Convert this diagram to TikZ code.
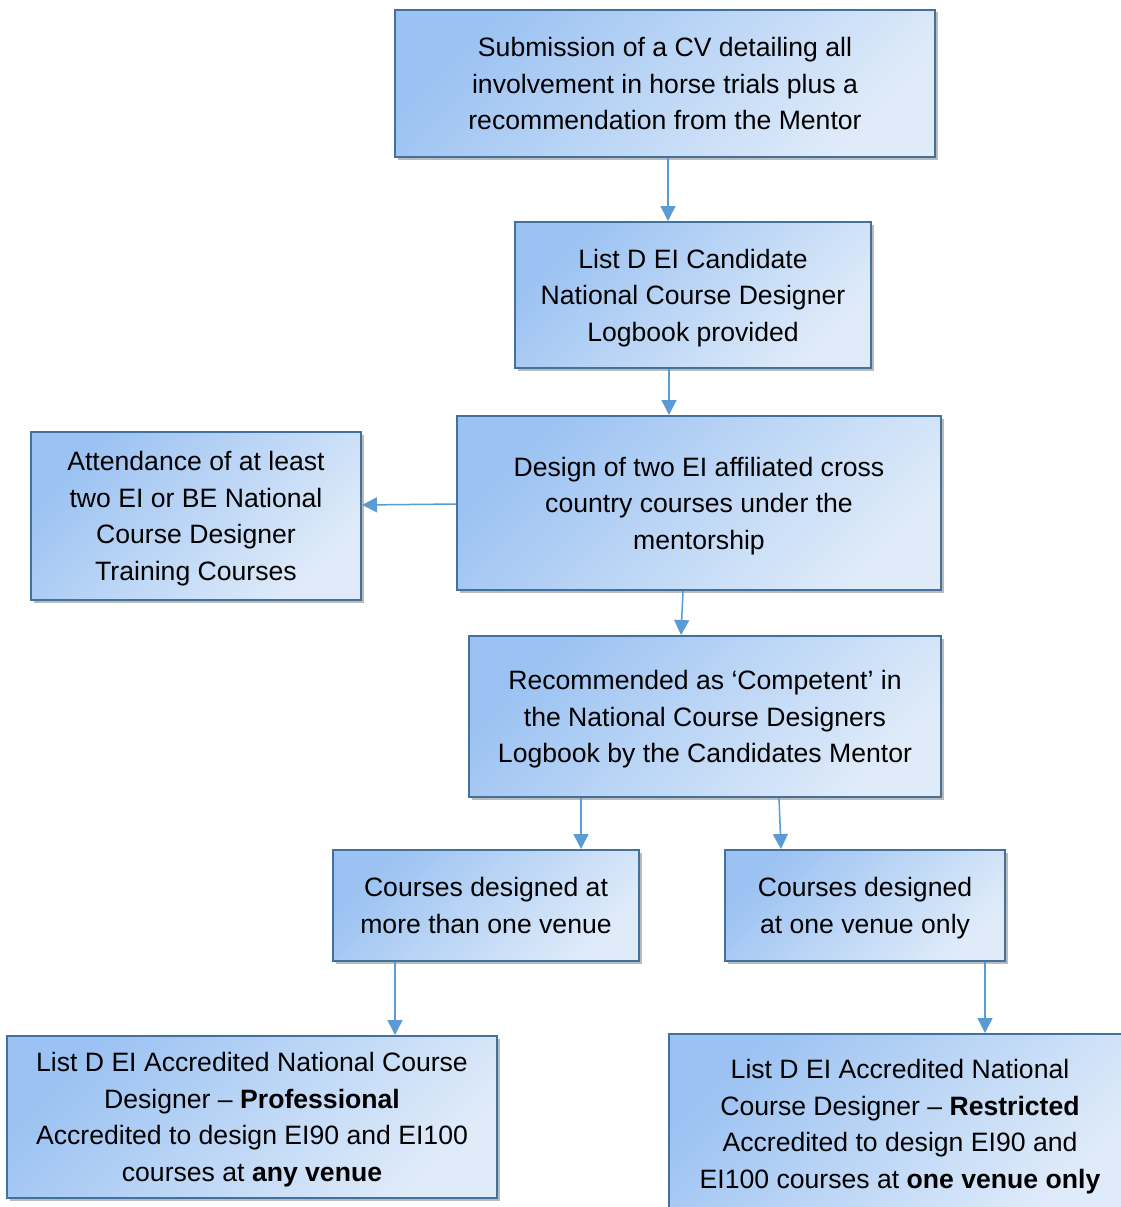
\documentclass[tikz,border=0pt]{standalone}
\usepackage{fontspec}
\setmainfont{Liberation Sans}
\usetikzlibrary{arrows.meta,shadows}
\definecolor{bordc}{HTML}{41719C}
\definecolor{arrc}{HTML}{5B9BD5}
\definecolor{gtop}{HTML}{9BC2F2}
\definecolor{gbot}{HTML}{DFEBF9}
\tikzset{
  box/.style={draw=bordc, line width=2pt, top color=gtop, bottom color=gbot,
    shading angle=45, drop shadow={shadow xshift=2.5pt, shadow yshift=-2.5pt, opacity=0.45, fill=black!60},
    align=center, inner sep=0pt, text depth=0pt,
    font=\fontsize{26.6}{36.6}\selectfont},
  conn/.style={draw=arrc, line width=1.5pt, -{Triangle[width=15pt,length=15pt]}}
}
\begin{document}
\begin{tikzpicture}[x=1pt,y=-1pt]
\clip (0,0) rectangle (1121,1207);
\fill[white] (0,0) rectangle (1121,1207);
\node[box, minimum width=540, minimum height=147] (b1) at (665,83.5)
  {Submission of a CV detailing all\\involvement in horse trials plus a\\recommendation from the Mentor};
\node[box, minimum width=356, minimum height=146] (b2) at (693,295)
  {List D EI Candidate\\National Course Designer\\Logbook provided};
\node[box, minimum width=484, minimum height=174] (b3) at (699,503)
  {Design of two EI affiliated cross\\country courses under the\\mentorship};
\node[box, minimum width=330, minimum height=168] (b4) at (196,516)
  {Attendance of at least\\two EI or BE National\\Course Designer\\Training Courses};
\node[box, minimum width=472, minimum height=161] (b5) at (705,716.5)
  {Recommended as ‘Competent’ in\\the National Course Designers\\Logbook by the Candidates Mentor};
\node[box, minimum width=306, minimum height=111] (b6) at (486,905.5)
  {Courses designed at\\more than one venue};
\node[box, minimum width=280, minimum height=111] (b7) at (865,905.5)
  {Courses designed\\at one venue only};
\node[box, minimum width=490, minimum height=162] (b8) at (252,1117)
  {List D EI Accredited National Course\\Designer -- \textbf{Professional}\\Accredited to design EI90 and EI100\\courses at \textbf{any venue}};
\node[box, minimum width=462, minimum height=180] (b9) at (900,1124)
  {List D EI Accredited National\\Course Designer -- \textbf{Restricted}\\Accredited to design EI90 and\\EI100 courses at \textbf{one venue only}};
\draw[conn] (668,0 |- b1.south) -- (668,0 |- b2.north);
\draw[conn] (669,0 |- b2.south) -- (669,0 |- b3.north);
\draw[conn] (b3.west |- 0,504) -- (b4.east |- 0,505);
\draw[conn] (683,0 |- b3.south) -- (681,0 |- b5.north);
\draw[conn] (581,0 |- b5.south) -- (581,0 |- b6.north);
\draw[conn] (779,0 |- b5.south) -- (781,0 |- b7.north);
\draw[conn] (395,0 |- b6.south) -- (395,0 |- b8.north);
\draw[conn] (985,0 |- b7.south) -- (985,0 |- b9.north);
\end{tikzpicture}
\end{document}
